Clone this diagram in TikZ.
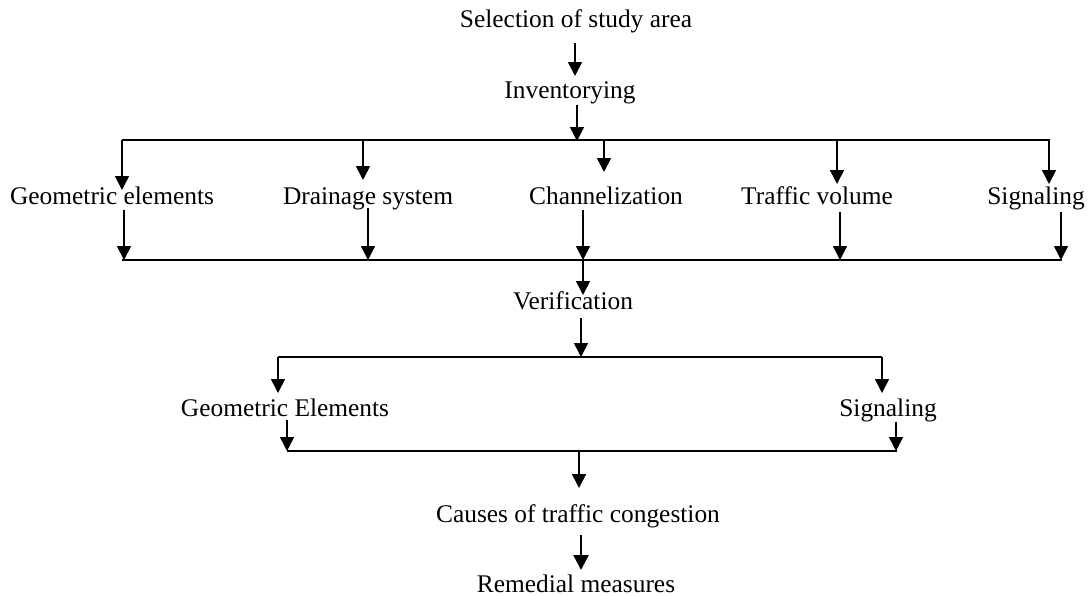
\documentclass[tikz,border=0pt]{standalone}
\usepackage{fontspec}
\setmainfont{Liberation Serif}
\usetikzlibrary{arrows.meta}
\begin{document}
\begin{tikzpicture}[x=0.5pt,y=-0.5pt,
  lbl/.style={inner sep=0pt, anchor=base, font=\fontsize{12.7}{15}\selectfont},
  arr/.style={line width=0.8pt, -{Triangle[width=7pt,length=7pt]}},
  thickarr/.style={line width=1.3pt, -{Triangle[width=7.5pt,length=7.5pt]}},
  bus/.style={line width=0.8pt}]
\useasboundingbox (0,0) rectangle (1090,595);
% labels
\node[lbl] (sel) at (576,27) {Selection of study area};
\node[lbl] (inv) at (570,98) {Inventorying};
\node[lbl] (ge1) at (112,204) {Geometric elements};
\node[lbl] (dra) at (368,204) {Drainage system};
\node[lbl] (cha) at (606,204) {Channelization};
\node[lbl] (tra) at (817,204) {Traffic volume};
\node[lbl] (sig1) at (1036,204) {Signaling};
\node[lbl] (ver) at (573,309) {Verification};
\node[lbl] (ge2) at (285,416) {Geometric Elements};
\node[lbl] (sig2) at (888,416) {Signaling};
\node[lbl] (cau) at (578,522) {Causes of traffic congestion};
\node[lbl] (rem) at (576,592) {Remedial measures};
% coordinates
\coordinate (s1) at (575,43);  \coordinate (e1) at (575,76);
\coordinate (s2) at (577,105); \coordinate (e2) at (577,141);
% top bus
\coordinate (tbL) at (122,140); \coordinate (tbR) at (1050,140);
\coordinate (ge1t) at (122,190); \coordinate (drat) at (363,180);
\coordinate (chat) at (604,172); \coordinate (trat) at (837,184);
\coordinate (sig1t) at (1049,184);
% lower bus
\coordinate (bbL) at (122,260); \coordinate (bbR) at (1062,260);
\coordinate (ge1b) at (124,210); \coordinate (drab) at (368,208);
\coordinate (chab) at (583,210); \coordinate (trab) at (840,212);
\coordinate (sig1b) at (1061,212);
\coordinate (vert) at (583,295);
% verification bus
\coordinate (v1) at (581,318); \coordinate (v2) at (581,357);
\coordinate (vbL) at (278,357); \coordinate (vbR) at (882,357);
\coordinate (ge2t) at (278,393); \coordinate (sig2t) at (882,393);
\coordinate (ge2b) at (287,420); \coordinate (sig2b) at (896,422);
\coordinate (cbL) at (287,451); \coordinate (cbR) at (897,451);
\coordinate (caut) at (579,488);
\coordinate (c1) at (581,535); \coordinate (c2) at (581,570);
% connectors
\draw[arr] (s1) -- (e1);
\draw[arr] (s2) -- (e2);
\draw[bus] (tbL) -- (tbR);
\draw[arr] (tbL) -- (ge1t);
\draw[arr] (drat |- tbL) -- (drat);
\draw[arr] (chat |- tbL) -- (chat);
\draw[arr] (trat |- tbL) -- (trat);
\draw[arr] (sig1t |- tbL) -- (sig1t);
\draw[bus] (bbL) -- (bbR);
\draw[arr] (ge1b) -- (ge1b |- bbL);
\draw[arr] (drab) -- (drab |- bbL);
\draw[arr] (chab) -- (chab |- bbL);
\draw[arr] (trab) -- (trab |- bbL);
\draw[arr] (sig1b) -- (sig1b |- bbL);
\draw[arr] (chab |- bbL) -- (vert);
\draw[arr] (v1) -- (v2);
\draw[bus] (vbL) -- (vbR);
\draw[arr] (vbL) -- (ge2t);
\draw[arr] (vbR) -- (sig2t);
\draw[bus] (cbL) -- (cbR);
\draw[arr] (ge2b) -- (cbL);
\draw[arr] (sig2b) -- (sig2b |- cbL);
\draw[arr] (caut |- cbL) -- (caut);
\draw[thickarr] (c1) -- (c2);
\end{tikzpicture}
\end{document}
